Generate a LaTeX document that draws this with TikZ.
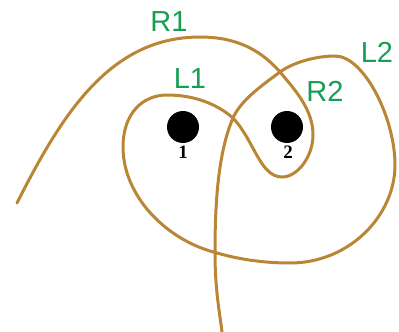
\documentclass[tikz,border=0pt]{standalone}
\usepackage{fontspec}
\newfontfamily\labelfont{Liberation Sans}
\newfontfamily\pinfont{Liberation Serif}
\definecolor{rope}{RGB}{184,134,52}
\definecolor{lblgreen}{RGB}{22,158,84}
\begin{document}
\begin{tikzpicture}[x=1pt,y=-1pt,
  ropeline/.style={draw=rope,line width=3pt,line cap=round},
  pin/.style={circle,fill=black,minimum size=32pt,inner sep=0pt},
  pinlabel/.style={font=\pinfont\bfseries\fontsize{19}{19}\selectfont,inner sep=0pt},
  looplabel/.style={font=\labelfont\fontsize{29}{29}\selectfont,text=lblgreen,inner sep=0pt}]
\useasboundingbox (0,0) rectangle (399,332);
\draw[ropeline] (17,203)
  .. controls (62,114) and (110,37) .. (200,37)
  .. controls (235,37) and (260,49) .. (280,72)
  .. controls (296,91) and (313,110) .. (313,135)
  .. controls (313,156) and (298,177) .. (282,177)
  .. controls (260,177) and (254,140) .. (233,118)
  .. controls (214,101.5) and (190,95) .. (167,95)
  .. controls (143,95) and (123,113) .. (123,147)
  .. controls (123,195) and (165,240) .. (217,253)
  .. controls (241,259.8) and (265,263) .. (290,263)
  .. controls (350,263) and (395,215) .. (395,165)
  .. controls (395,118) and (364,56) .. (335,56)
  .. controls (315,56) and (292,63) .. (280,72)
  .. controls (264,84) and (241,99.6) .. (233,118)
  .. controls (217,155) and (215,210) .. (215,253)
  .. controls (215,290) and (220,315) .. (222,332);
\node[pin] (p1) at (183,127) {};
\node[pin] (p2) at (287,127) {};
\node[pinlabel,anchor=base] (n1) at (183,158) {1};
\node[pinlabel,anchor=base] (n2) at (288,158) {2};
\node[looplabel] (r1) at (169,22) {R1};
\node[looplabel] (l1) at (190,79) {L1};
\node[looplabel] (r2) at (325,91) {R2};
\node[looplabel] (l2) at (377,52) {L2};
\end{tikzpicture}
\end{document}
